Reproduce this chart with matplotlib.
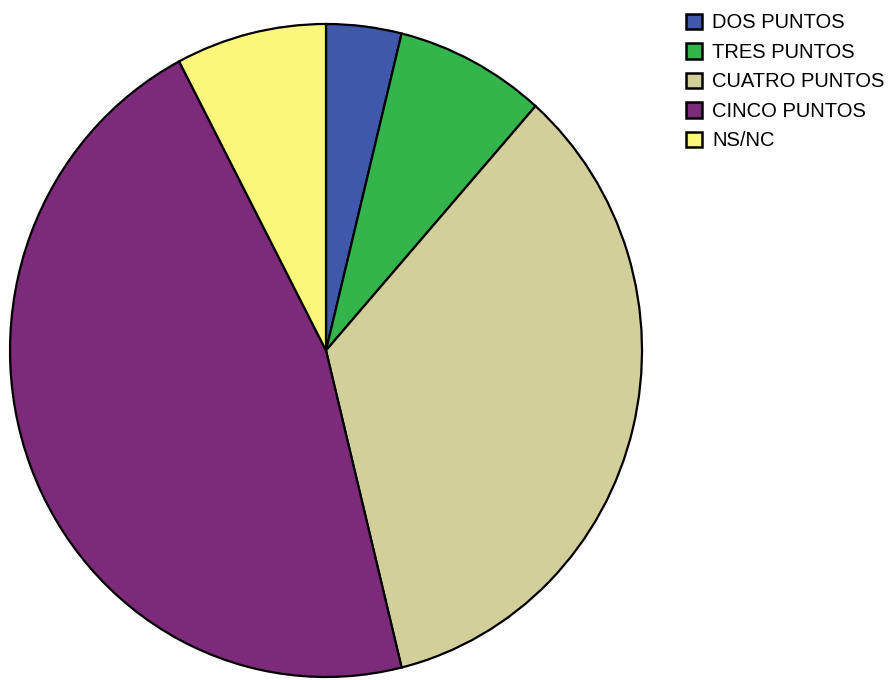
import matplotlib
matplotlib.use("Agg")
import matplotlib.pyplot as plt
from matplotlib.patches import Patch

plt.rcParams["font.family"] = ["Liberation Sans", "DejaVu Sans"]

# Survey answers (counts per score)
labels = ["DOS PUNTOS", "TRES PUNTOS", "CUATRO PUNTOS", "CINCO PUNTOS", "NS/NC"]
counts = [1, 2, 9, 12, 2]
colors = ["#3F58AC", "#33B54C", "#D3CF9A", "#7D2A7B", "#FBF77A"]

fig = plt.figure(figsize=(8.89, 6.80), dpi=100)
ax = fig.add_axes([10 / 889, 3 / 680, 632 / 889, 653 / 680])

ax.pie(counts, colors=colors, startangle=90, counterclock=False,
       radius=1.0, wedgeprops=dict(edgecolor="black", linewidth=1.6))
ax.set_aspect("auto")
ax.set_xlim(-1.0, 1.0)
ax.set_ylim(-1.0, 1.0)
ax.axis("off")

handles = [Patch(facecolor=c, edgecolor="black", linewidth=1.8) for c in colors]
fig.legend(handles, labels, loc="upper left", bbox_to_anchor=(686 / 889, 1 - 13.5 / 680),
           frameon=False, fontsize=14.5, borderpad=0, borderaxespad=0,
           handlelength=0.8, handleheight=0.8, handletextpad=0.5,
           labelspacing=0.52)

fig.savefig("out.png", dpi=100)
